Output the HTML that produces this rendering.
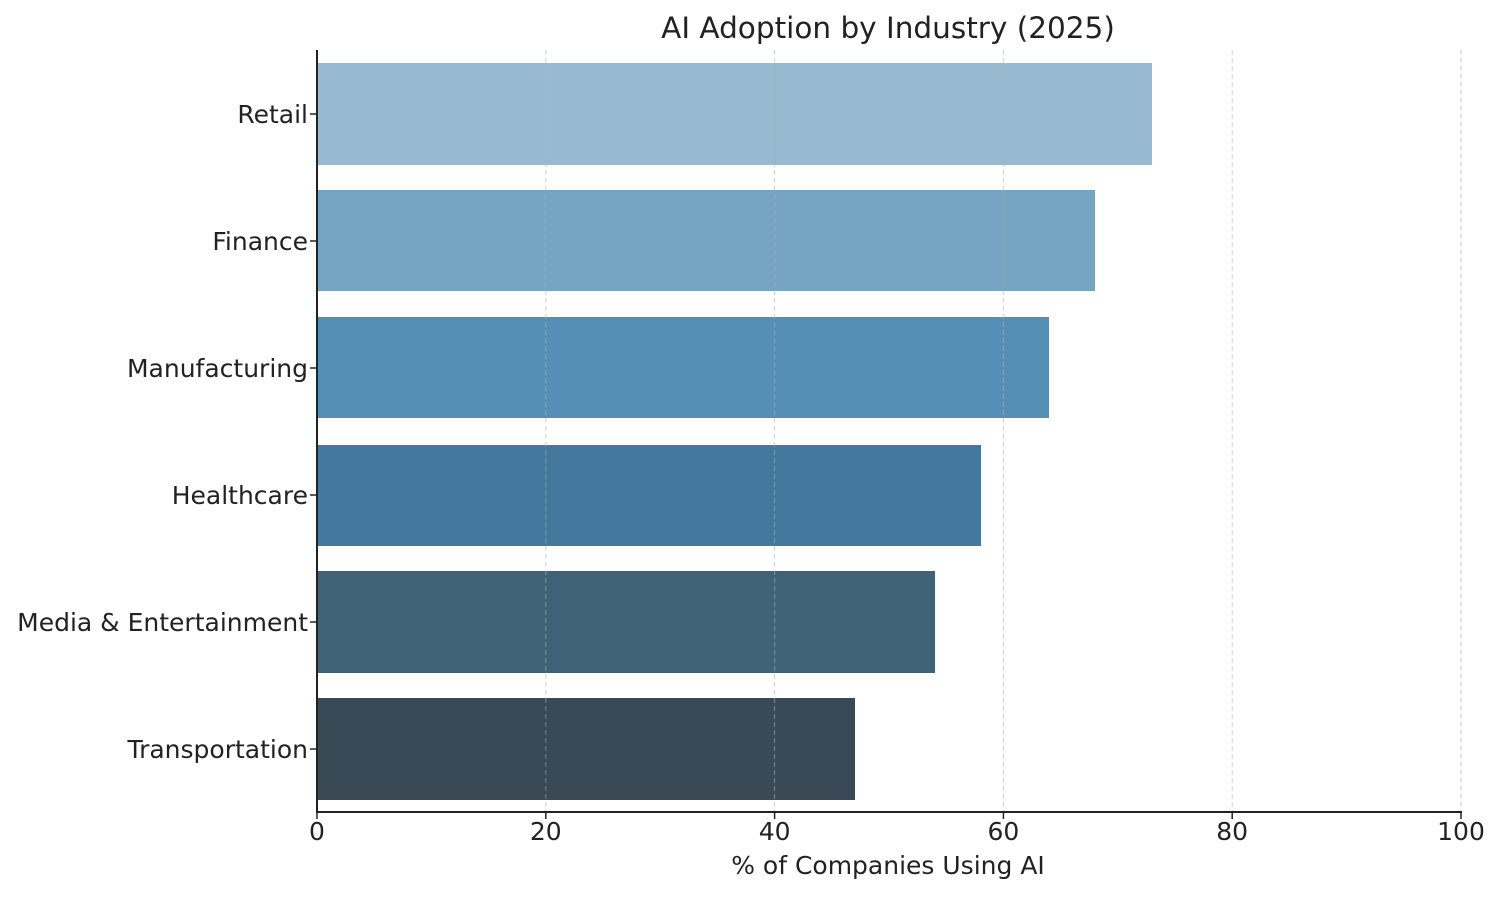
<!DOCTYPE html>
<html><head><meta charset="utf-8"><style>
html,body{margin:0;padding:0;background:#fff;}
svg text{font-family:"DejaVu Sans","Liberation Sans",sans-serif;fill:#222;}
</style></head><body>
<svg width="1500" height="894" viewBox="0 0 1500 894" xmlns="http://www.w3.org/2000/svg">
<rect width="1500" height="894" fill="#fff"/>
<text x="888" y="38" font-size="29.5" text-anchor="middle" fill="#333">AI Adoption by Industry (2025)</text>
<g>
<rect x="317" y="63" width="835" height="102" fill="#97b9d1"/>
<rect x="317" y="190" width="778" height="101" fill="#76a5c4"/>
<rect x="317" y="317" width="732" height="101" fill="#568fb6"/>
<rect x="317" y="445" width="664" height="101" fill="#44789c"/>
<rect x="317" y="571" width="618" height="102" fill="#3f6279"/>
<rect x="317" y="698" width="538" height="102" fill="#394a56"/>
</g>
<g stroke="#b0b0b0" stroke-width="1" stroke-dasharray="5,3" opacity="0.6">
<line x1="545.8" y1="50" x2="545.8" y2="812"/>
<line x1="774.6" y1="50" x2="774.6" y2="812"/>
<line x1="1003.4" y1="50" x2="1003.4" y2="812"/>
<line x1="1232.2" y1="50" x2="1232.2" y2="812"/>
<line x1="1461" y1="50" x2="1461" y2="812"/>
</g>
<g stroke="#222" stroke-width="2">
<line x1="317" y1="50" x2="317" y2="813"/>
<line x1="316" y1="812" x2="1462" y2="812"/>
</g>
<g stroke="#222" stroke-width="1.5">
<line x1="317" y1="812" x2="317" y2="819"/>
<line x1="545.8" y1="812" x2="545.8" y2="819"/>
<line x1="774.6" y1="812" x2="774.6" y2="819"/>
<line x1="1003.4" y1="812" x2="1003.4" y2="819"/>
<line x1="1232.2" y1="812" x2="1232.2" y2="819"/>
<line x1="1461" y1="812" x2="1461" y2="819"/>
<line x1="310" y1="114" x2="317" y2="114"/>
<line x1="310" y1="241" x2="317" y2="241"/>
<line x1="310" y1="368" x2="317" y2="368"/>
<line x1="310" y1="495" x2="317" y2="495"/>
<line x1="310" y1="622" x2="317" y2="622"/>
<line x1="310" y1="749" x2="317" y2="749"/>
</g>
<g font-size="25" text-anchor="middle">
<text x="317" y="840">0</text>
<text x="545.8" y="840">20</text>
<text x="774.6" y="840">40</text>
<text x="1003.4" y="840">60</text>
<text x="1232.2" y="840">80</text>
<text x="1461" y="840">100</text>
</g>
<text x="888" y="874" font-size="25" text-anchor="middle">% of Companies Using AI</text>
<g font-size="25" text-anchor="end">
<text x="308" y="123">Retail</text>
<text x="308" y="250">Finance</text>
<text x="308" y="377">Manufacturing</text>
<text x="308" y="504">Healthcare</text>
<text x="308" y="631">Media &amp; Entertainment</text>
<text x="308" y="758">Transportation</text>
</g>
</svg>
</body></html>
